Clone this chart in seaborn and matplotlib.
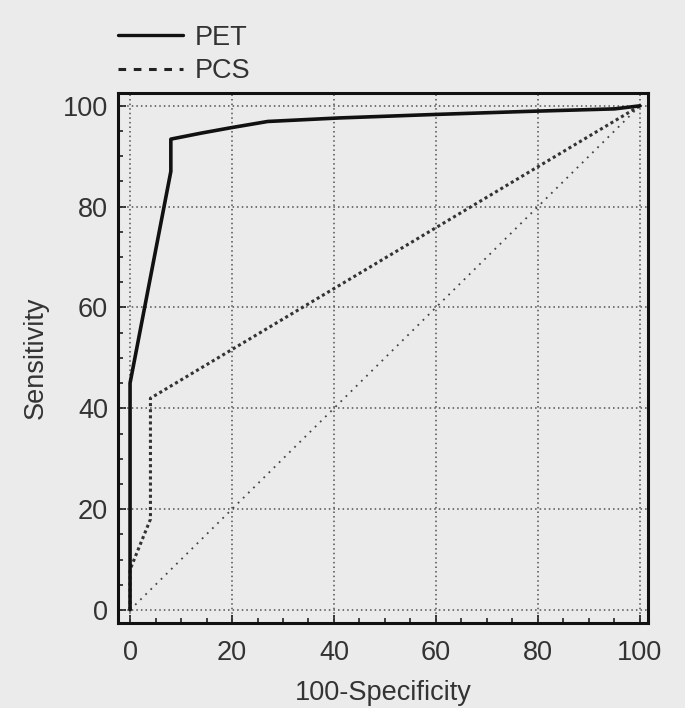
import numpy as np
import pandas as pd
import matplotlib
matplotlib.use("Agg")
import matplotlib.pyplot as plt
import seaborn as sns
from matplotlib.lines import Line2D
from matplotlib.ticker import MultipleLocator

# ROC points (100-Specificity, Sensitivity)
pet_x = [0, 0, 8, 8, 14, 20, 27, 33, 41, 60, 78, 95, 100]
pet_y = [0, 45, 87, 93.4, 94.6, 95.7, 96.9, 97.2, 97.6, 98.3, 98.9, 99.4, 100]

pcs_x = [0, 0, 4, 4, 100]
pcs_y = [0, 8, 18, 42, 100]

ref_x = [0, 100]
ref_y = [0, 100]

series_names = ["PET", "PCS"]
ticks = [0, 20, 40, 60, 80, 100]

sns.set_style("ticks")
plt.rcParams["font.family"] = ["Liberation Sans", "DejaVu Sans"]

bg = "#ebebeb"
fig = plt.figure(figsize=(6.85, 7.08), dpi=100, facecolor=bg)
ax = fig.add_axes([0.172, 0.12, 0.774, 0.749])
ax.set_facecolor(bg)

# grid
for t in ticks:
    ax.axvline(t, color="#505050", lw=1.1, ls=(0, (1, 2)), zorder=1)
    ax.axhline(t, color="#505050", lw=1.1, ls=(0, (1, 2)), zorder=1)

# reference diagonal
sns.lineplot(x=ref_x, y=ref_y, ax=ax, color="#444444", lw=1.3,
             linestyle=(0, (1, 3)), sort=False, estimator=None, zorder=2)

# curves
sns.lineplot(x=pcs_x, y=pcs_y, ax=ax, color="#333333", lw=2.2,
             linestyle=(0, (1, 1)), sort=False, estimator=None, zorder=3)
sns.lineplot(x=pet_x, y=pet_y, ax=ax, color="#111111", lw=2.6,
             sort=False, estimator=None, zorder=4)

ax.set_xlim(-2.4, 101.6)
ax.set_ylim(-2.6, 102.6)
ax.set_xticks(ticks)
ax.set_yticks(ticks)
ax.xaxis.set_minor_locator(MultipleLocator(5))
ax.yaxis.set_minor_locator(MultipleLocator(5))
ax.tick_params(which="major", direction="in", length=6, width=1.2,
               labelsize=19.5, colors="#111111", labelcolor="#333333", pad=7)
ax.tick_params(axis="x", which="major", pad=12.5)
ax.tick_params(which="minor", direction="in", length=3.5, width=1.1, colors="#111111")
ax.tick_params(top=False, right=False, which="both")

for s in ax.spines.values():
    s.set_visible(True)
    s.set_linewidth(2.2)
    s.set_color("#111111")

ax.set_xlabel("100-Specificity", fontsize=19.5, color="#333333", labelpad=10)
ax.set_ylabel("Sensitivity", fontsize=19.5, color="#333333", labelpad=10)

handles = [
    Line2D([], [], color="#111111", lw=2.4),
    Line2D([], [], color="#222222", lw=2.2, linestyle=(0, (2.5, 2.5))),
]
fig.legend(handles, series_names, loc="upper left",
           bbox_to_anchor=(0.172, 0.965), frameon=False, fontsize=19.5,
           handlelength=2.4, handletextpad=0.45, labelspacing=0.28,
           borderpad=0, borderaxespad=0, labelcolor="#333333")

fig.savefig("out.png", dpi=100, facecolor=bg)
